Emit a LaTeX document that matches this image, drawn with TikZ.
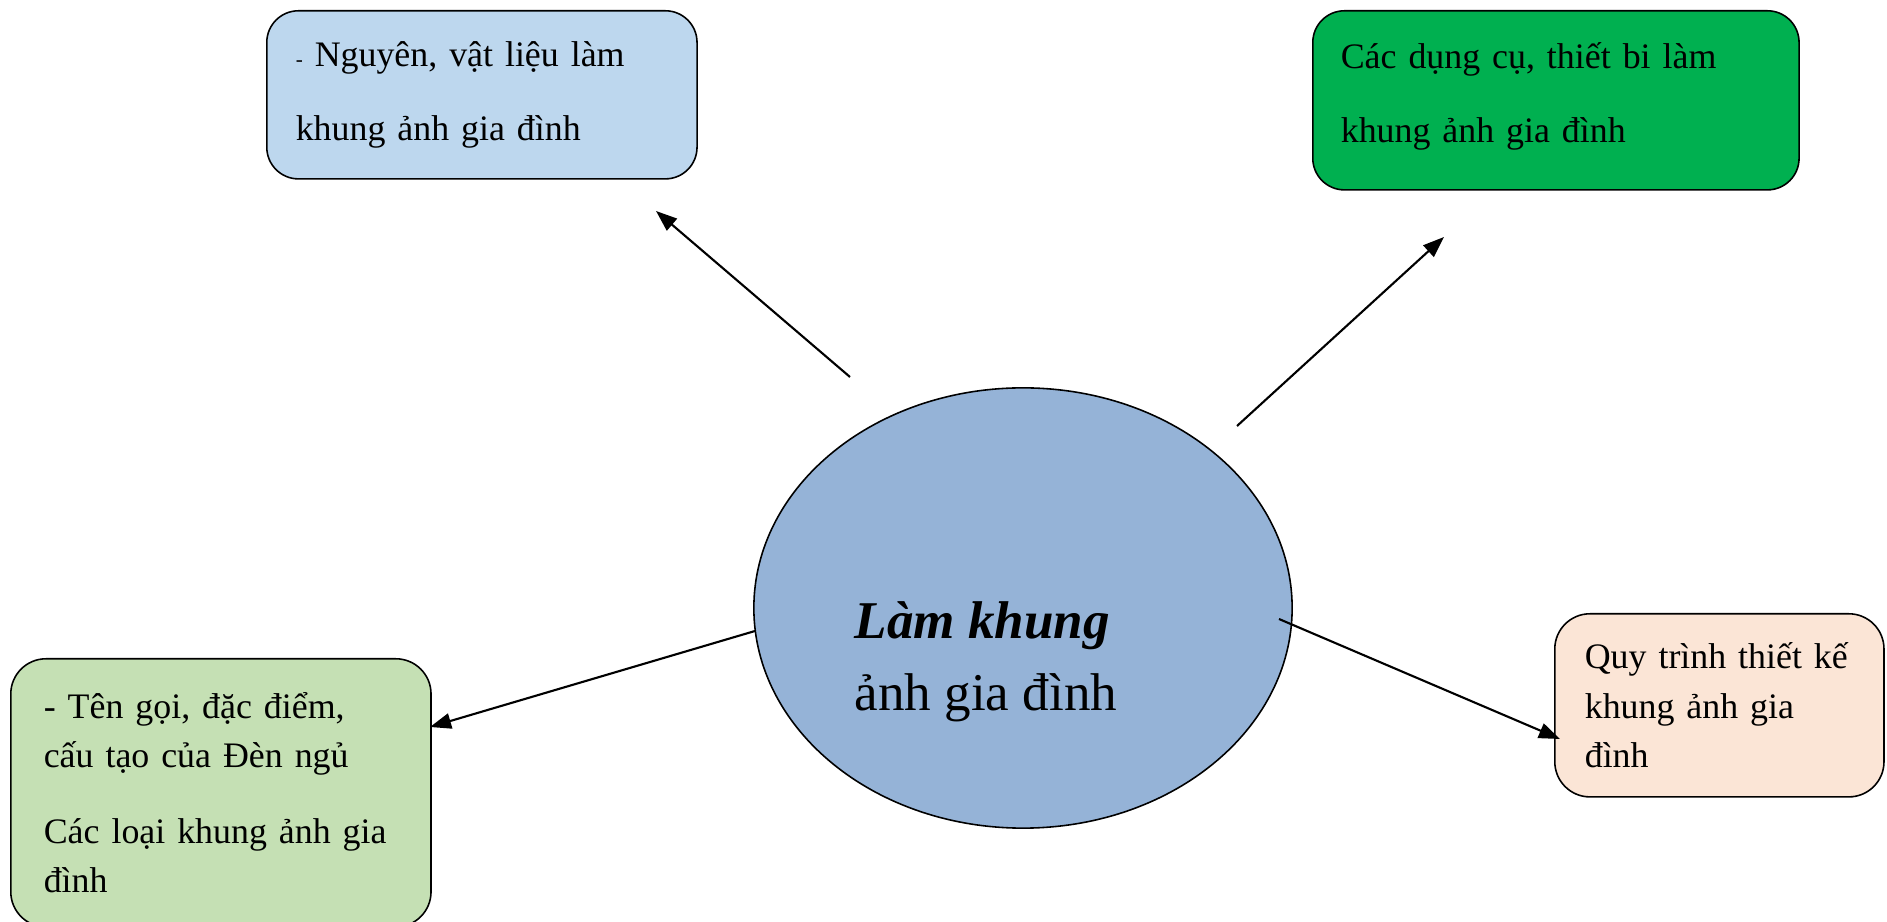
\documentclass[tikz,border=0pt]{standalone}
\usepackage{fontspec}
\setmainfont{Liberation Serif}
\usepackage{tikz}
\usetikzlibrary{shapes.geometric}
\usetikzlibrary{arrows.meta}

\definecolor{azulclaro}{HTML}{BDD7EE}
\definecolor{verde}{HTML}{00B050}
\definecolor{azul}{HTML}{95B3D7}
\definecolor{verdeclaro}{HTML}{C5E0B4}
\definecolor{durazno}{HTML}{FBE5D6}

\begin{document}
\begin{tikzpicture}[x=0.01cm, y=-0.01cm,
    caja/.style={draw, rounded corners=9pt, anchor=north west, align=left, inner ysep=0pt, line width=0.45pt, font=\fontsize{10.2}{21.2}\selectfont},
    flecha/.style={-{Triangle[length=6pt, width=4.4pt]}, line width=0.6pt}]
            \useasboundingbox (0,0) rectangle (1887,922);
            % Cajas
            \node[caja, fill=azulclaro, text width=3.72cm, inner xsep=0.29cm, minimum height=1.68cm] (nvl) at (266,10) {{\fontsize{6}{6}\selectfont - }Nguyên, vật liệu làm\\ khung ảnh gia đình};
            \node[caja, fill=verde, text width=4.30cm, inner xsep=0.28cm, minimum height=1.79cm] (dc) at (1312,10) {Các dụng cụ, thiết bi làm\\ khung ảnh gia đình\rule[-0.16cm]{0pt}{0pt}};
            \node[caja, fill=verdeclaro, rounded corners=10pt, text width=3.54cm, inner xsep=0.33cm, minimum height=2.68cm, font=\fontsize{10.2}{13.9}\selectfont] (tg) at (10,658) {- Tên gọi, đặc điểm,\\ cấu tạo của Đèn ngủ\\[7.7pt] Các loại khung ảnh gia\\ đình};
            \node[caja, fill=durazno, rounded corners=10pt, text width=2.69cm, inner xsep=0.30cm, minimum height=1.83cm, font=\fontsize{10.2}{14}\selectfont] (qt) at (1554,613) {Quy trình thiết kế\\ khung ảnh gia\\ đình};
            \node[ellipse, draw, fill=azul, minimum width=5.38cm, minimum height=4.40cm, inner sep=0pt, line width=0.45pt] (centro) at (1023,608) {};
            \node[anchor=north west, align=left, inner sep=0pt, font=\fontsize{15.1}{20.5}\selectfont] (titulo) at (854,601) {\textbf{\textit{Làm khung}}\\ ảnh gia đình};

            % Flechas
            \coordinate (s1) at (850,377);
            \coordinate (e1) at (656,211);
            \coordinate (s2) at (1237,426);
            \coordinate (e2) at (1444,237);
            \coordinate (s3) at (755,631);
            \coordinate (e3) at (430,727);
            \coordinate (s4) at (1279,619);
            \coordinate (e4) at (1560,739);
            \draw[flecha] (s1) -- (e1);
            \draw[flecha] (s2) -- (e2);
            \draw[flecha] (s3) -- (e3);
            \draw[flecha] (s4) -- (e4);
\end{tikzpicture}
\end{document}
